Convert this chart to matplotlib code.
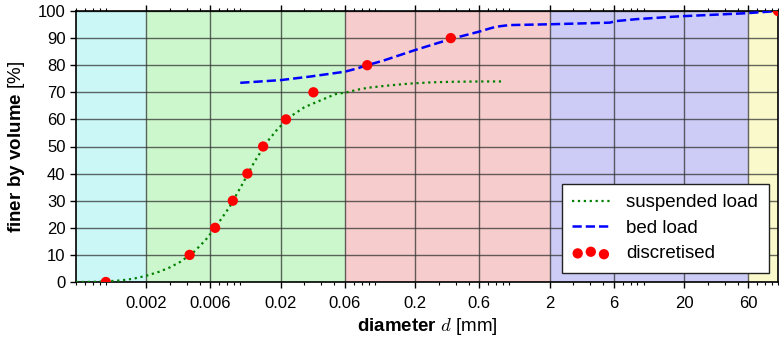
import numpy as np
import matplotlib
matplotlib.use("Agg")
import matplotlib.pyplot as plt
from matplotlib.ticker import FixedLocator, FixedFormatter, LogLocator, NullFormatter

plt.rcParams["font.family"] = ["Liberation Sans", "DejaVu Sans"]
plt.rcParams["mathtext.fontset"] = "custom"
plt.rcParams["mathtext.rm"] = "Liberation Sans"
plt.rcParams["mathtext.bf"] = "Liberation Sans:bold"
plt.rcParams["mathtext.it"] = "cmmi10"

# grain-size classes (clay, silt, sand, gravel, cobbles)
class_edges = [0.0006, 0.002, 0.06, 2.0, 60.0, 100.0]
class_colors = ["#ccf7f7", "#ccf7cc", "#f7cccc", "#ccccf7", "#f9f9cc"]

# cumulative grading curves
d_suspended = [0.0006, 0.0008, 0.001, 0.0013, 0.0016, 0.002, 0.0025, 0.003, 0.0036,
               0.0045, 0.0055, 0.0065, 0.0083, 0.0105, 0.0127, 0.0157, 0.019, 0.0235,
               0.03, 0.039, 0.051, 0.062, 0.075, 0.09, 0.12, 0.18, 0.27, 0.4, 0.6, 0.9]
p_suspended = [0, 0.05, 0.2, 0.6, 1.2, 2.3, 3.8, 5.4, 7.5,
               11, 15.4, 20, 27.6, 36.6, 44.2, 51.5, 56.5, 61,
               64.5, 66.9, 69.3, 70, 71, 71.7, 72.4, 73.2, 73.7, 73.9, 74, 74]

d_bed = [0.01, 0.02, 0.033, 0.06, 0.074, 0.088, 0.116, 0.2, 0.37, 0.6, 0.7, 0.8, 1.0,
         2.0, 5.6, 6.3, 8.9, 18, 59, 100]
p_bed = [73.5, 74.5, 75.8, 77.6, 78.8, 80, 81.7, 85.6, 89.7, 92.4, 93.4, 94.2, 94.8,
         95.1, 95.7, 96.3, 97, 98, 99.2, 100]

# discretised fractions
d_disc = [0.001, 0.0042, 0.0065, 0.0088, 0.0113, 0.0148, 0.0219, 0.035, 0.088, 0.368, 100]
p_disc = [0, 10, 20, 30, 40, 50, 60, 70, 80, 90, 100]

x_ticks = [0.002, 0.006, 0.02, 0.06, 0.2, 0.6, 2, 6, 20, 60]
x_labels = ["0.002", "0.006", "0.02", "0.06", "0.2", "0.6", "2", "6", "20", "60"]

fig = plt.figure(figsize=(7.79, 3.39), dpi=100)
ax = fig.add_axes([76 / 779, 1 - 282 / 339, 702 / 779, 271 / 339])

for lo, hi, c in zip(class_edges[:-1], class_edges[1:], class_colors):
    ax.axvspan(lo, hi, color=c, lw=0, zorder=0)

ax.set_xscale("log")
ax.set_xlim(0.0006, 100)
ax.set_ylim(0, 100)

ax.xaxis.set_major_locator(FixedLocator(x_ticks))
ax.xaxis.set_major_formatter(FixedFormatter(x_labels))
ax.xaxis.set_minor_locator(LogLocator(base=10, subs=np.arange(1, 10), numticks=50))
ax.xaxis.set_minor_formatter(NullFormatter())
ax.set_yticks(np.arange(0, 101, 10))

ax.grid(True, which="major", color="#333333", lw=1.0, alpha=0.75, zorder=1)
ax.set_axisbelow(True)

ax.tick_params(axis="x", which="both", top=True, bottom=True, direction="out",
               labelsize=12, colors="black")
ax.tick_params(axis="x", which="major", length=4, width=1)
ax.tick_params(axis="x", which="minor", length=2.5, width=0.8)
ax.tick_params(axis="y", which="major", left=True, right=False, direction="out",
               length=4, width=1, labelsize=12)
ax.tick_params(axis="x", pad=6)

for s in ax.spines.values():
    s.set_linewidth(1.2)
    s.set_color("black")

ax.plot(d_suspended, p_suspended, ":", color="#008000", lw=1.6, label="suspended load", zorder=3)
ax.plot(d_bed, p_bed, "--", color="#0000ff", lw=1.8, label="bed load", zorder=3)
ax.scatter(d_disc, p_disc, s=55, color="#ff0000", edgecolors="none",
           label="discretised", zorder=4)

leg = ax.legend(loc="lower right", fontsize=13.5, fancybox=False, framealpha=1,
                edgecolor="#222222", borderaxespad=0.5, handlelength=2.0,
                handletextpad=0.9, borderpad=0.55, labelspacing=0.45,
                scatterpoints=3)
leg.get_frame().set_linewidth(1.0)

ax.set_xlabel(r"$\mathbf{diameter}$ $d$ [mm]", fontsize=13.5, labelpad=4)
ax.set_ylabel(r"$\mathbf{finer\ by\ volume}$ [%]", fontsize=13.5, labelpad=8)

fig.savefig("out.png", dpi=100)
